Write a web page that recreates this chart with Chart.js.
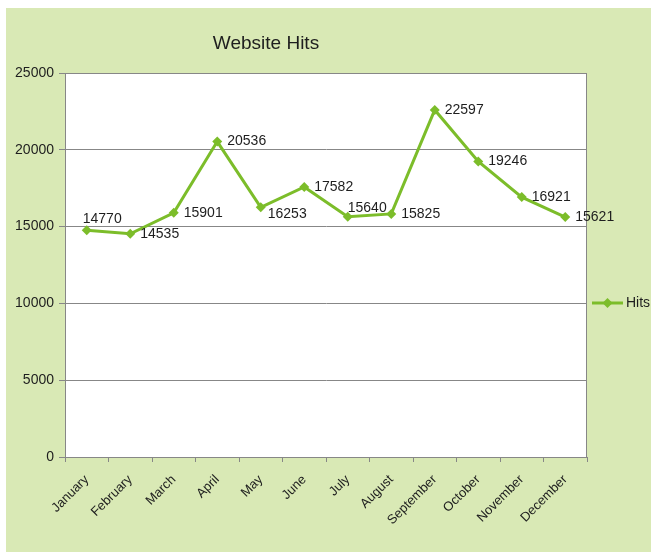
<!DOCTYPE html>
<html>
<head>
<meta charset="utf-8">
<script src="https://cdn.jsdelivr.net/npm/chart.js"></script>
<style>
  html, body { margin: 0; padding: 0; background: #fff; }
</style>
</head>
<body>
<canvas id="myChart" width="651" height="552"></canvas>
<script>
// data
const months = ['January', 'February', 'March', 'April', 'May', 'June',
                'July', 'August', 'September', 'October', 'November', 'December'];
const hits = [14770, 14535, 15901, 20536, 16253, 17582, 15640, 15825, 22597, 19246, 16921, 15621];
const yMin = 0;
const yMax = 25000;
const yStep = 5000;

const green = '#7cbd2a';
const panel = '#d9e9b5';
const gridGray = '#878787';
const font = '"Liberation Sans", Arial, sans-serif';

// background panel, white plot area, title, legend and point labels
const decor = {
    id: 'decor',
    beforeDraw(chart) {
        const c = chart.ctx, a = chart.chartArea;
        c.save();
        c.fillStyle = '#fff';
        c.fillRect(0, 0, chart.width, chart.height);
        c.fillStyle = panel;
        c.fillRect(6, 8, chart.width - 6, chart.height - 8);
        c.fillStyle = '#fff';
        c.fillRect(a.left, a.top, a.right - a.left, a.bottom - a.top);
        c.restore();
    },
    beforeDatasetsDraw(chart) {
        const c = chart.ctx, a = chart.chartArea;
        c.save();
        c.strokeStyle = gridGray;
        c.lineWidth = 1;
        c.strokeRect(a.left + 0.5, a.top + 0.5, a.right - a.left - 1, a.bottom - a.top);
        c.restore();
    },
    afterDatasetsDraw(chart, args, opts) {
        const c = chart.ctx;
        const meta = chart.getDatasetMeta(0);
        c.save();
        c.font = '14px ' + font;
        c.fillStyle = '#1e1e1e';
        c.textAlign = 'left';
        c.textBaseline = 'middle';
        meta.data.forEach((pt, i) => {
            const n = opts.nudge[i] || [0, 0];
            c.fillText(String(chart.data.datasets[0].data[i]), pt.x + 10 + n[0], pt.y + n[1]);
        });
        c.restore();
    },
    afterDraw(chart) {
        const c = chart.ctx, a = chart.chartArea;
        c.save();
        // title
        c.font = '19px ' + font;
        c.fillStyle = '#1e1e1e';
        c.textAlign = 'center';
        c.textBaseline = 'middle';
        c.fillText('Website Hits', 266, 44);
        // legend
        const lx = a.right + 5, ly = 303;
        c.strokeStyle = green;
        c.lineWidth = 3;
        c.beginPath();
        c.moveTo(lx, ly);
        c.lineTo(lx + 31, ly);
        c.stroke();
        c.fillStyle = green;
        c.beginPath();
        c.moveTo(lx + 15.5, ly - 5);
        c.lineTo(lx + 20.5, ly);
        c.lineTo(lx + 15.5, ly + 5);
        c.lineTo(lx + 10.5, ly);
        c.closePath();
        c.fill();
        c.font = '14px ' + font;
        c.fillStyle = '#1e1e1e';
        c.textAlign = 'left';
        c.fillText(chart.data.datasets[0].label, lx + 34, ly);
        c.restore();
    }
};

const ctx = document.getElementById('myChart').getContext('2d');
const chart = new Chart(ctx, {
    type: 'line',
    data: {
        labels: months,
        datasets: [{
            label: 'Hits',
            data: hits,
            borderColor: green,
            backgroundColor: green,
            borderWidth: 3,
            tension: 0,
            pointStyle: 'rectRot',
            pointRadius: 5,
            pointHoverRadius: 5,
            pointBorderWidth: 0
        }]
    },
    options: {
        responsive: false,
        animation: false,
        layout: { padding: { top: 73, right: 64, left: 0, bottom: 0 } },
        plugins: {
            legend: { display: false },
            title: { display: false },
            tooltip: { enabled: false },
            decor: { nudge: { 0: [-14, -11], 4: [-3, 7], 6: [-10, -9] } }
        },
        scales: {
            x: {
                offset: true,
                afterFit: s => { s.height = 95; },
                grid: { offset: true, drawOnChartArea: false, drawTicks: true, tickLength: 5, color: gridGray },
                border: { color: gridGray },
                ticks: {
                    minRotation: 45, maxRotation: 45, autoSkip: false, padding: 10,
                    color: '#1e1e1e', font: { family: font, size: 13 }
                }
            },
            y: {
                min: yMin, max: yMax,
                afterFit: s => { s.width = 65; },
                grid: { color: gridGray, tickLength: 6 },
                border: { color: gridGray },
                ticks: {
                    stepSize: yStep, padding: 5,
                    color: '#1e1e1e', font: { family: font, size: 14 },
                    callback: v => String(v)
                }
            }
        }
    },
    plugins: [decor]
});
</script>
</body>
</html>
